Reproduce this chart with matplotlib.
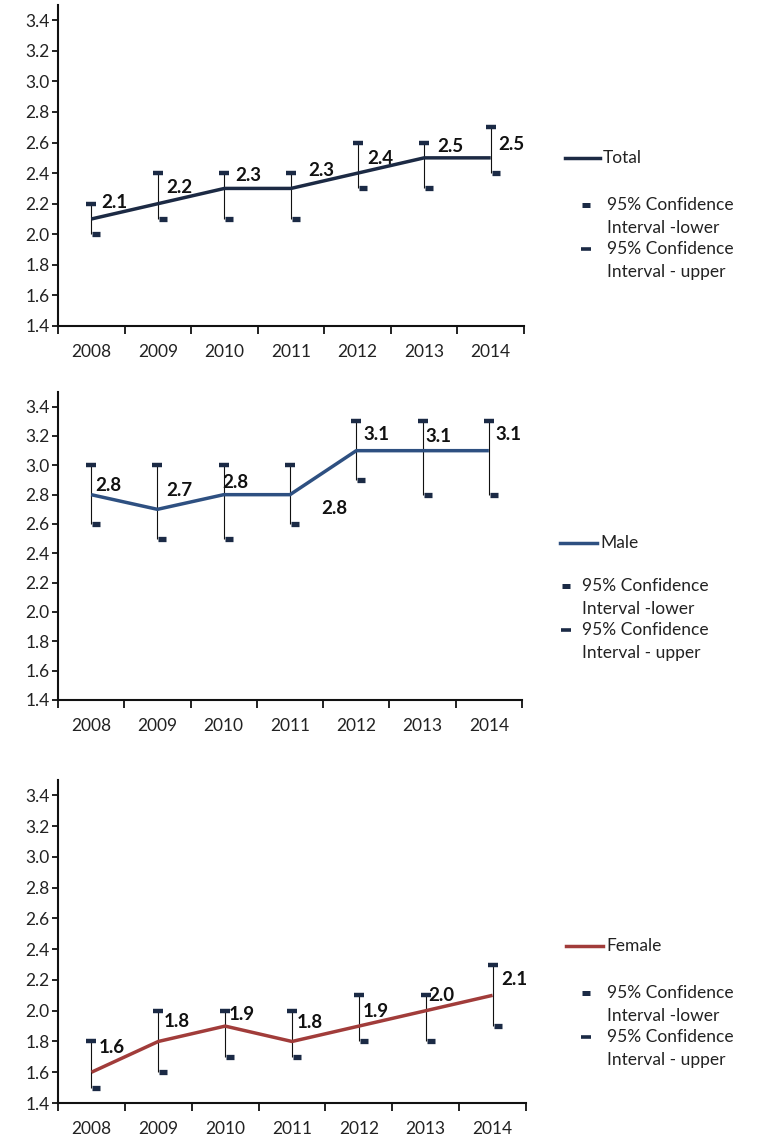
import matplotlib.pyplot as plt
import matplotlib.transforms as mtransforms
from matplotlib.lines import Line2D
from matplotlib.patches import Rectangle

plt.rcParams['font.family'] = ['Lato', 'DejaVu Sans']

years = ['2008', '2009', '2010', '2011', '2012', '2013', '2014']

total = [2.1, 2.2, 2.3, 2.3, 2.4, 2.5, 2.5]
total_lower = [2.0, 2.1, 2.1, 2.1, 2.3, 2.3, 2.4]
total_upper = [2.2, 2.4, 2.4, 2.4, 2.6, 2.6, 2.7]

male = [2.8, 2.7, 2.8, 2.8, 3.1, 3.1, 3.1]
male_lower = [2.6, 2.5, 2.5, 2.6, 2.9, 2.8, 2.8]
male_upper = [3.0, 3.0, 3.0, 3.0, 3.3, 3.3, 3.3]

female = [1.6, 1.8, 1.9, 1.8, 1.9, 2.0, 2.1]
female_lower = [1.5, 1.6, 1.7, 1.7, 1.8, 1.8, 1.9]
female_upper = [1.8, 2.0, 2.0, 2.0, 2.1, 2.1, 2.3]

yticks = [1.4, 1.6, 1.8, 2.0, 2.2, 2.4, 2.6, 2.8, 3.0, 3.2, 3.4]

W, H = 757, 1140
fig = plt.figure(figsize=(W / 100, H / 100), dpi=100)

# overlay in pixel coords for the legends
lax = fig.add_axes([0, 0, 1, 1])
lax.set_xlim(0, W)
lax.set_ylim(H, 0)
lax.axis('off')

navy = '#1b2a45'
txt = '#222222'
px = 0.72  # pixels -> points at dpi 100

# label offsets in pixels (dx right, dy up)
total_off = [(23, 16), (21, 16), (24, 13), (30, 18), (23, 15), (26, 11), (21, 13)]
male_off = [(17, 9), (22, 19), (12, 12), (44, -14), (20, 16), (16, 14), (20, 16)]
female_off = [(20, 25), (18, 20), (17, 12), (18, 19), (17, 15), (16, 15), (22, 16)]


def panel(rect, vals, lo, hi, color, offs, name, leg, clipx):
    ax = fig.add_axes(rect)
    x = list(range(len(years)))
    ax.vlines(x, lo, hi, color='#111111', lw=0.8, zorder=2)
    ax.plot(x, vals, color=color, lw=2.5, zorder=3, solid_capstyle='butt')
    ax.plot(x, hi, ls='none', marker='_', ms=7, mew=3.2, color=navy, zorder=4)
    shift = ax.transData + mtransforms.ScaledTranslation(5 / 100, 0, fig.dpi_scale_trans)
    ax.plot(x, lo, ls='none', marker='_', ms=6, mew=3.8, color=navy, zorder=4,
            transform=shift)
    for i, v in enumerate(vals):
        dx, dy = offs[i]
        ax.annotate('%.1f' % v, (i, v), xytext=(dx * px, dy * px),
                    textcoords='offset points', ha='center', va='center',
                    fontsize=13.5, fontweight='bold', color='#111111')
    ax.set_xlim(-0.5, 6.5)
    ax.set_ylim(1.4, 3.5)
    ax.set_yticks(yticks)
    ax.set_yticklabels(['%.1f' % t for t in yticks])
    ax.set_xticks([i - 0.5 for i in range(8)])
    ax.set_xticklabels([])
    ax.set_xticks(x, minor=True)
    ax.set_xticklabels(years, minor=True)
    ax.tick_params(axis='x', which='major', direction='out', length=6, width=1.3, color='#111111')
    ax.tick_params(axis='x', which='minor', length=0, pad=13, labelsize=12.5, labelcolor=txt)
    ax.tick_params(axis='y', direction='out', length=4, width=1.3, color='#111111',
                   labelsize=12.5, labelcolor=txt, pad=2)
    for s in ['top', 'right']:
        ax.spines[s].set_visible(False)
    for s in ['left', 'bottom']:
        ax.spines[s].set_linewidth(1.5)
        ax.spines[s].set_color('#111111')

    # legend
    lx0, lx1, ly, tx, dxm, ty = leg
    lax.add_line(Line2D([lx0, lx1], [ly, ly], color=color, lw=2.5))
    clip = Rectangle((540, ly - 30), clipx - 540, 160, transform=lax.transData,
                     fill=False, visible=False)
    lax.add_patch(clip)
    t = lax.text(lx1 + 3, ly, name, fontsize=12.5, color=txt, va='center', ha='left')
    lax.plot([dxm], [ty], ls='none', marker='_', ms=5.5, mew=3.6, color=navy)
    lax.plot([dxm], [ty + 44], ls='none', marker='_', ms=7, mew=2.6, color=navy)
    items = [t]
    items.append(lax.text(tx, ty, '95% Confidence', fontsize=12.5, color=txt, va='center'))
    items.append(lax.text(tx, ty + 23, 'Interval -lower', fontsize=12.5, color=txt, va='center'))
    items.append(lax.text(tx, ty + 44, '95% Confidence', fontsize=12.5, color=txt, va='center'))
    items.append(lax.text(tx, ty + 67, 'Interval - upper', fontsize=12.5, color=txt, va='center'))
    for it in items:
        it.set_clip_path(clip)
    return ax


panel([58 / W, 1 - 326 / H, 466 / W, 321 / H], total, total_lower, total_upper,
      '#1c2a44', total_off, 'Total', (565, 600, 158, 607, 586, 205), 741)
panel([58 / W, 1 - 700 / H, 464 / W, 308 / H], male, male_lower, male_upper,
      '#2e5081', male_off, 'Male', (560, 597, 543, 582, 566, 586), 757)
panel([58 / W, 1 - 1103 / H, 468 / W, 323 / H], female, female_lower, female_upper,
      '#a13c3a', female_off, 'Female', (566, 603, 946, 607, 586, 993), 741)

fig.savefig('out.png', dpi=100)
